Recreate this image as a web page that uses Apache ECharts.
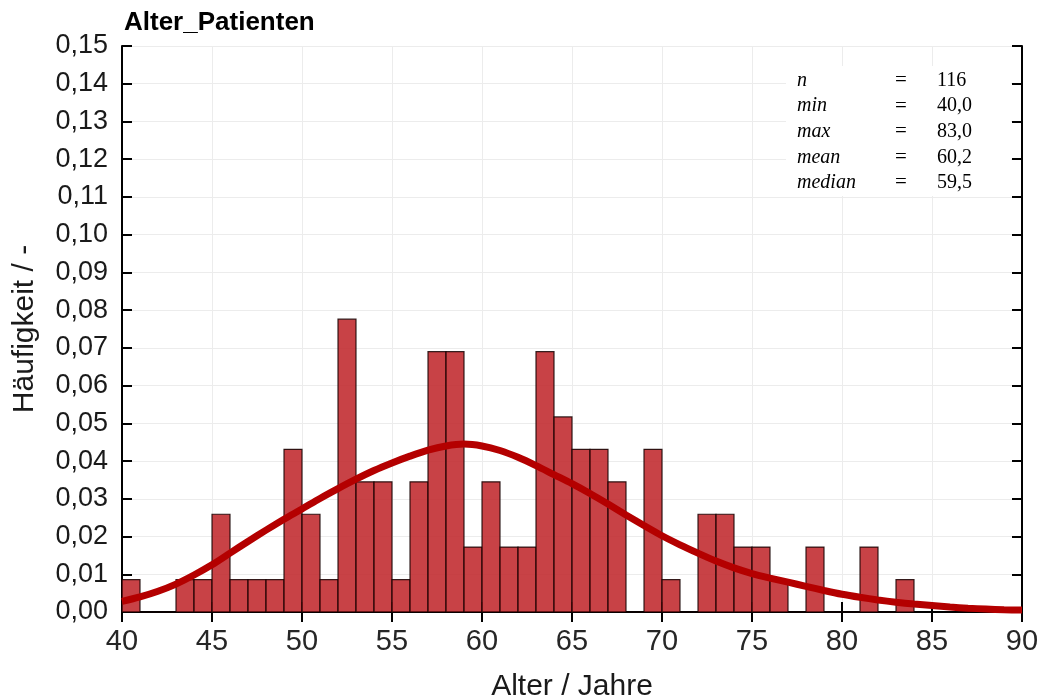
<!DOCTYPE html>
<html>
<head>
<meta charset="utf-8">
<script src="https://cdn.jsdelivr.net/npm/echarts@6/dist/echarts.min.js"></script>
<style>html,body{margin:0;padding:0;background:#fff}#c{width:1040px;height:700px}</style>
</head>
<body>
<div id="c"></div>
<script>
// Histogram bins (left edges, width 1 year) and relative frequencies
const binStarts = [40,41,42,43,44,45,46,47,48,49,50,51,52,53,54,55,56,57,58,59,60,61,62,63,64,65,66,67,68,69,70,71,72,73,74,75,76,77,78,79,80,81,82,83];
const binWidth = 1;
const freq = [0.0086,0,0,0.0086,0.0086,0.0259,0.0086,0.0086,0.0086,0.0431,0.0259,0.0086,0.0776,0.0345,0.0345,0.0086,0.0345,0.0690,0.0690,0.0172,0.0345,0.0172,0.0172,0.0690,0.0517,0.0431,0.0431,0.0345,0,0.0431,0.0086,0,0.0259,0.0259,0.0172,0.0172,0.0086,0,0.0172,0,0,0.0172,0,0.0086];
// Fitted density curve
const curveX = [40,41,42,43,44,45,46,47,48,49,50,51,52,53,54,55,56,57,58,59,60,61,62,63,64,65,66,67,68,69,70,71,72,73,74,75,76,77,78,79,80,81,82,83,84,85,86,87,88,89,90];
const curveY = [0.0028,0.0040,0.0055,0.0074,0.0098,0.0125,0.0156,0.0187,0.0217,0.0246,0.0273,0.0301,0.0327,0.0352,0.0375,0.0395,0.0413,0.0429,0.0440,0.0445,0.0440,0.0428,0.0410,0.0388,0.0364,0.0340,0.0314,0.0286,0.0257,0.0229,0.0202,0.0178,0.0156,0.0135,0.0117,0.0102,0.0090,0.0079,0.0068,0.0057,0.0047,0.0039,0.0032,0.0026,0.0021,0.0017,0.0013,0.0010,0.0008,0.0006,0.0005];
// Axis ticks
const xMin = 40, xMax = 90, xStep = 5;
const yMin = 0, yMax = 0.15, yStep = 0.01;
// Stats box
const statNames = ['n','min','max','mean','median'];
const statValues = ['116','40,0','83,0','60,2','59,5'];

const chart = echarts.init(document.getElementById('c'));
const fmtY = v => v.toFixed(2).replace('.', ',');
const barData = binStarts.map((s, i) => [s, s + binWidth, freq[i]]);
const lineData = curveX.map((x, i) => [x, curveY[i]]);

const frame = {lineStyle: {color: '#000', width: 2}};
const statGraphics = [];
statGraphics.push({type: 'rect', shape: {x: 786, y: 66, width: 225, height: 130}, style: {fill: '#fff'}, z: 50});
statNames.forEach((nm, i) => {
  const y = 80.5 + i * 25.6;
  statGraphics.push({type: 'text', x: 797, y: y, z: 51, style: {text: nm, font: 'italic 20px "Liberation Serif"', fill: '#000', textVerticalAlign: 'middle'}});
  statGraphics.push({type: 'text', x: 895, y: y, z: 51, style: {text: '=', font: '21px "Liberation Serif"', fill: '#000', textVerticalAlign: 'middle'}});
  statGraphics.push({type: 'text', x: 937, y: y, z: 51, style: {text: statValues[i], font: '20px "Liberation Serif"', fill: '#000', textVerticalAlign: 'middle'}});
});

chart.setOption({
  animation: false,
  backgroundColor: '#fff',
  title: {text: 'Alter_Patienten', left: 124, top: 10, padding: 0, textStyle: {fontFamily: 'Liberation Sans', fontWeight: 'bold', fontSize: 26, color: '#000'}},
  grid: {left: 122, right: 18, top: 46, bottom: 88, containLabel: false, outerBoundsMode: 'none'},
  xAxis: [{
    type: 'value', min: xMin, max: xMax, interval: xStep, position: 'bottom',
    name: 'Alter / Jahre', nameLocation: 'middle', nameGap: 60,
    nameTextStyle: {fontFamily: 'Liberation Sans', fontSize: 30, color: '#1a1a1a'},
    axisLine: frame, axisTick: {inside: true, length: 10, lineStyle: {color: '#000', width: 2}},
    axisLabel: {fontFamily: 'Liberation Sans', fontSize: 29, color: '#262626', margin: 15},
    splitLine: {show: true, lineStyle: {color: '#ececec', width: 1}}
  }, {
    type: 'value', min: xMin, max: xMax, interval: xStep, position: 'top',
    axisLine: frame, axisTick: {inside: true, length: 10, lineStyle: {color: '#000', width: 2}},
    axisLabel: {show: false}, splitLine: {show: false}
  }],
  yAxis: [{
    type: 'value', min: yMin, max: yMax, interval: yStep, position: 'left',
    name: 'Häufigkeit / -', nameLocation: 'middle', nameGap: 82,
    nameTextStyle: {fontFamily: 'Liberation Sans', fontSize: 30, color: '#1a1a1a'},
    axisLine: frame, axisTick: {inside: true, length: 10, lineStyle: {color: '#000', width: 2}},
    axisLabel: {fontFamily: 'Liberation Sans', fontSize: 27, color: '#1a1a1a', margin: 14, formatter: fmtY},
    splitLine: {show: true, lineStyle: {color: '#ececec', width: 1}}
  }, {
    type: 'value', min: yMin, max: yMax, interval: yStep, position: 'right',
    axisLine: frame, axisTick: {inside: true, length: 10, lineStyle: {color: '#000', width: 2}},
    axisLabel: {show: false}, splitLine: {show: false}
  }],
  series: [{
    type: 'custom',
    xAxisIndex: 0, yAxisIndex: 0,
    data: barData,
    encode: {x: [0, 1], y: 2},
    renderItem: function (params, api) {
      const p0 = api.coord([api.value(0), api.value(2)]);
      const p1 = api.coord([api.value(1), 0]);
      return {
        type: 'rect',
        shape: {x: p0[0], y: p0[1], width: p1[0] - p0[0], height: p1[1] - p0[1]},
        style: {fill: 'rgba(192,40,44,0.88)', stroke: 'rgba(20,0,0,0.85)', lineWidth: 1.2}
      };
    },
    z: 2
  }, {
    type: 'line',
    xAxisIndex: 0, yAxisIndex: 0,
    data: lineData,
    smooth: 0.3,
    showSymbol: false,
    lineStyle: {color: '#b40000', width: 7},
    z: 3
  }],
  graphic: statGraphics
});
</script>
</body>
</html>
